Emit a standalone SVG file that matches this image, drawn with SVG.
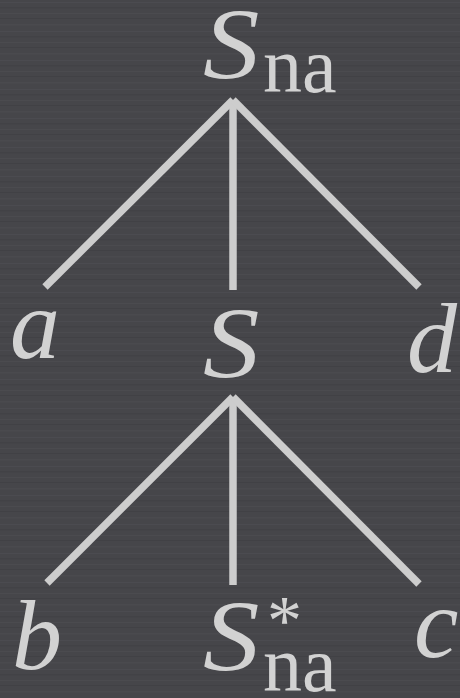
<svg xmlns="http://www.w3.org/2000/svg" width="460" height="698" viewBox="0 0 460 698">
<defs>
<style>
.bg{fill:#46464a}
.edge{stroke:#cdcdcd;stroke-width:7.5;stroke-linecap:butt;fill:none}
.t{fill:#d2d2d2;font-family:"Liberation Serif","DejaVu Serif",serif}
.it{font-style:italic;font-size:100px}
.sub{font-size:78px}
.sup{font-size:70px}
</style>
<pattern id="streaks" width="460" height="29" patternUnits="userSpaceOnUse">
<rect x="0" y="2" width="460" height="1" fill="#505055" opacity="0.5"/>
<rect x="0" y="7" width="460" height="1.5" fill="#3d3d41" opacity="0.5"/>
<rect x="0" y="13" width="460" height="1" fill="#525257" opacity="0.4"/>
<rect x="0" y="18" width="460" height="1" fill="#3c3c40" opacity="0.5"/>
<rect x="0" y="24" width="460" height="1.5" fill="#4f4f54" opacity="0.4"/>
</pattern>
</defs>
<rect class="bg" x="0" y="0" width="460" height="698"/>
<rect x="0" y="0" width="460" height="698" fill="url(#streaks)"/>
<g id="connectors">
<line class="edge" x1="233" y1="100" x2="45" y2="287"/>
<line class="edge" x1="233" y1="100" x2="233" y2="290"/>
<line class="edge" x1="233" y1="100" x2="419" y2="287"/>
<line class="edge" x1="233" y1="397" x2="47" y2="583"/>
<line class="edge" x1="233" y1="397" x2="233" y2="585"/>
<line class="edge" x1="233" y1="397" x2="419" y2="584"/>
</g>
<g id="node-root">
<text class="t it" transform="translate(203,79) scale(1.13,1.02)">S</text>
<text class="t sub" x="263" y="92">na</text>
</g>
<g id="node-a"><text class="t it" x="10" y="358">a</text></g>
<g id="node-S"><text class="t it" transform="translate(203,378) scale(1.13,1.02)">S</text></g>
<g id="node-d"><text class="t it" x="407" y="372">d</text></g>
<g id="node-b"><text class="t it" x="12" y="669">b</text></g>
<g id="node-Sfoot">
<text class="t it" transform="translate(203,671) scale(1.13,1.02)">S</text>
<text class="t sup" x="267" y="644">*</text>
<text class="t sub" x="263" y="691">na</text>
</g>
<g id="node-c"><text class="t it" x="414" y="657">c</text></g>
</svg>
